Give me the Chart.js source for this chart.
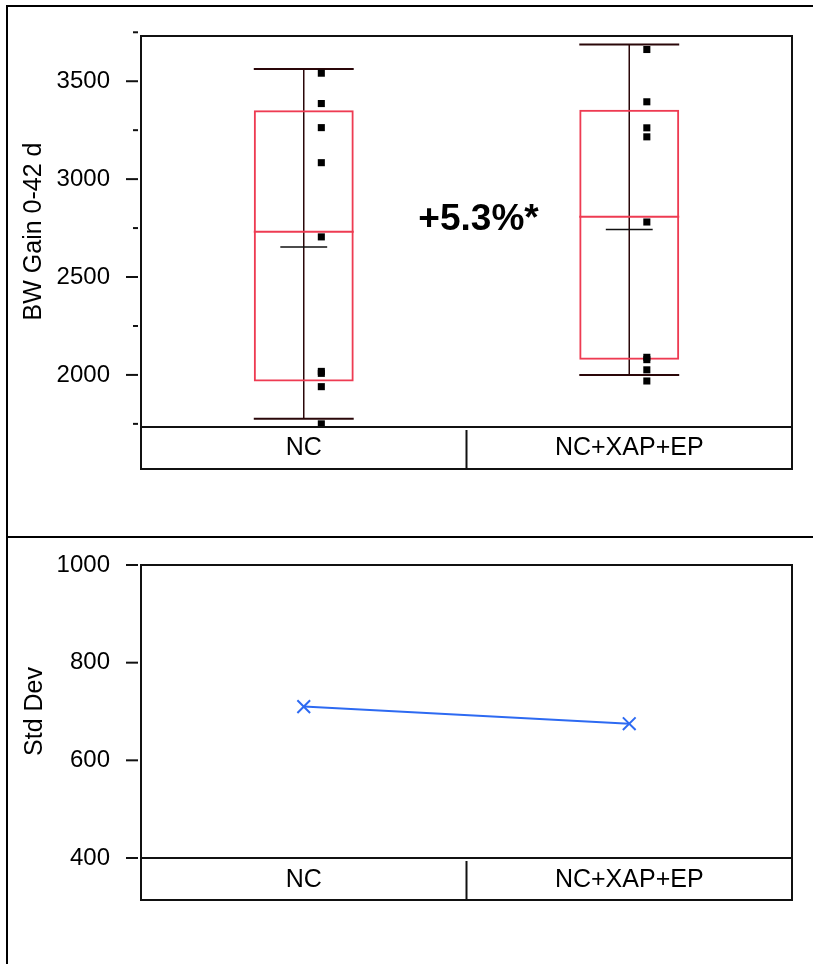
<!DOCTYPE html>
<html lang="en">
<head>
<meta charset="UTF-8">
<title>BW Gain 0-42 d</title>
<script src="https://cdn.jsdelivr.net/npm/chart.js"></script>
<style>
  body { margin: 0; background: #fff; }
  #page { position: relative; width: 813px; height: 964px; overflow: hidden; background: #fff; }
  #frame { position: absolute; left: 6px; top: 5px; width: 900px; height: 1000px; border-left: 2px solid #000; border-top: 2px solid #000; }
  #divider { position: absolute; left: 6px; top: 536px; width: 900px; height: 2px; background: #000; }
  .panel { position: absolute; left: 0; width: 813px; }
  #top { top: 0; height: 537px; }
  #bottom { top: 537px; height: 427px; }
</style>
</head>
<body>
<div id="page">
  <div id="frame"></div>
  <div id="divider"></div>
  <div class="panel" id="top"><canvas id="boxChart"></canvas></div>
  <div class="panel" id="bottom"><canvas id="sdChart"></canvas></div>
</div>

<script>
// data
const categories = ['NC', 'NC+XAP+EP'];

const whiskerHigh = [3563, 3688];
const quartile3   = [3352, 3354];
const median      = [2731, 2808];
const mean        = [2653, 2743];
const quartile1   = [1966, 2077];
const whiskerLow  = [1776, 2000];

const ncPoints  = [3541, 3386, 3263, 3084, 2705, 2018, 2008, 1940, 1750];
const xapPoints = [3662, 3395, 3262, 3216, 2781, 2090, 2078, 2026, 1969];

const yTicksTop    = [2000, 2500, 3000, 3500];
const yMinorTop    = [1750, 2250, 2750, 3250, 3750];
const yTicksBottom = [400, 600, 800, 1000];

const stdDev = [710, 675];

const annotationText = '+5.3%*';

Chart.defaults.font.family = "'Liberation Sans', Arial, sans-serif";
Chart.defaults.color = '#000';

const RED = '#ee3b52';
const DARK = '#2a0709';

function line(ctx, x1, y1, x2, y2) {
  ctx.beginPath();
  ctx.moveTo(x1, y1);
  ctx.lineTo(x2, y2);
  ctx.stroke();
}

// fixed axis size; drop the label padding chart.js adds above/below
function fixY(s) {
  s.width = 141;
  s.paddingTop = 0;
  s.paddingBottom = 0;
}

// plot frame, category band below it and the y tick marks
const panelFrame = {
  id: 'panelFrame',
  afterDraw(chart, args, opts) {
    const { ctx, chartArea: a } = chart;
    const y = chart.scales.y;
    ctx.save();
    ctx.strokeStyle = '#111';
    ctx.lineWidth = 2;
    ctx.strokeRect(a.left, a.top, a.right - a.left, a.bottom - a.top);

    const bb = a.bottom + 42;
    ctx.beginPath();
    ctx.moveTo(a.left, a.bottom);
    ctx.lineTo(a.left, bb);
    ctx.lineTo(a.right, bb);
    ctx.lineTo(a.right, a.bottom);
    ctx.stroke();
    const mid = (a.left + a.right) / 2;
    line(ctx, mid, a.bottom + 3, mid, bb);

    y.ticks.forEach(t => {
      const py = y.getPixelForValue(t.value);
      line(ctx, a.left - 15, py, a.left - 3, py);
    });
    (opts.minor || []).forEach(v => {
      const py = y.getPixelForValue(v);
      line(ctx, a.left - 8, py, a.left - 3, py);
    });
    ctx.restore();
  }
};

// whiskers, mean and median lines, plus the percentage note
const boxExtras = {
  id: 'boxExtras',
  beforeDatasetsDraw(chart) {
    const { ctx } = chart;
    const x = chart.scales.x, y = chart.scales.y;
    const cw = x.width / categories.length;
    const hw = cw * 0.307 / 2;
    const mw = cw * 0.072;
    ctx.save();
    categories.forEach((c, i) => {
      const cx = x.getPixelForValue(i);
      const yHi = y.getPixelForValue(whiskerHigh[i]);
      const yLo = y.getPixelForValue(whiskerLow[i]);
      ctx.strokeStyle = DARK;
      ctx.lineWidth = 1.5;
      line(ctx, cx, yHi, cx, yLo);
      ctx.lineWidth = 2;
      line(ctx, cx - hw, yHi, cx + hw, yHi);
      line(ctx, cx - hw, yLo, cx + hw, yLo);
      ctx.strokeStyle = '#111';
      ctx.lineWidth = 1.5;
      const ym = y.getPixelForValue(mean[i]);
      line(ctx, cx - mw, ym, cx + mw, ym);
      ctx.strokeStyle = RED;
      ctx.lineWidth = 2;
      const yMed = y.getPixelForValue(median[i]);
      line(ctx, cx - hw, yMed, cx + hw, yMed);
    });
    ctx.restore();
  },
  afterDraw(chart) {
    const { ctx } = chart;
    const xp = chart.scales.xp, y = chart.scales.y;
    ctx.save();
    ctx.font = "bold 37px 'Liberation Sans', Arial, sans-serif";
    ctx.fillStyle = '#000';
    ctx.textAlign = 'center';
    ctx.textBaseline = 'alphabetic';
    ctx.fillText(annotationText, xp.getPixelForValue(0.537), y.getPixelForValue(2738));
    ctx.restore();
  }
};

const ptOffset = 0.054;

new Chart(document.getElementById('boxChart'), {
  type: 'bar',
  data: {
    labels: categories,
    datasets: [
      {
        type: 'scatter',
        order: 0,
        xAxisID: 'xp',
        data: ncPoints.map(v => ({ x: 0 + ptOffset, y: v }))
          .concat(xapPoints.map(v => ({ x: 1 + ptOffset, y: v }))),
        pointStyle: 'rect',
        pointRadius: 5,
        pointBorderWidth: 0,
        pointBackgroundColor: '#000',
        pointBorderColor: '#000'
      },
      {
        order: 1,
        grouped: false,
        data: categories.map((c, i) => [quartile1[i], quartile3[i]]),
        backgroundColor: 'rgba(0,0,0,0)',
        borderColor: RED,
        borderWidth: 2,
        borderSkipped: false,
        barPercentage: 0.307,
        categoryPercentage: 1
      }
    ]
  },
  options: {
    responsive: true,
    maintainAspectRatio: false,
    animation: false,
    layout: { padding: { top: 36, right: 21, left: 0, bottom: 0 } },
    plugins: {
      legend: { display: false },
      tooltip: { enabled: false },
      panelFrame: { minor: yMinorTop }
    },
    scales: {
      x: {
        type: 'category',
        offset: true,
        grid: { display: false, drawTicks: false },
        border: { display: false },
        ticks: { font: { size: 25 }, padding: 6, maxRotation: 0 },
        afterFit: s => { s.height = 110; }
      },
      xp: { type: 'linear', min: -0.5, max: 1.5, offset: false, display: false },
      y: {
        min: 1734,
        max: 3731,
        afterBuildTicks: s => { s.ticks = yTicksTop.map(v => ({ value: v })); },
        grid: { display: false, drawTicks: false },
        border: { display: false },
        ticks: { font: { size: 24 }, padding: 31, callback: v => String(v) },
        title: { display: true, text: 'BW Gain 0-42 d', font: { size: 25 }, padding: { top: 19 } },
        afterFit: fixY
      }
    }
  },
  plugins: [boxExtras, panelFrame]
});

new Chart(document.getElementById('sdChart'), {
  type: 'line',
  data: {
    labels: categories,
    datasets: [{
      data: stdDev,
      borderColor: '#2d6af2',
      borderWidth: 2,
      pointStyle: 'crossRot',
      pointRadius: 9,
      pointBorderWidth: 2,
      pointBorderColor: '#2d6af2',
      tension: 0
    }]
  },
  options: {
    responsive: true,
    maintainAspectRatio: false,
    animation: false,
    layout: { padding: { top: 28, right: 21, left: 0, bottom: 0 } },
    plugins: {
      legend: { display: false },
      tooltip: { enabled: false }
    },
    scales: {
      x: {
        type: 'category',
        offset: true,
        grid: { display: false, drawTicks: false },
        border: { display: false },
        ticks: { font: { size: 25 }, padding: 7, maxRotation: 0 },
        afterFit: s => { s.height = 106; }
      },
      y: {
        min: 400,
        max: 1000,
        afterBuildTicks: s => { s.ticks = yTicksBottom.map(v => ({ value: v })); },
        grid: { display: false, drawTicks: false },
        border: { display: false },
        ticks: { font: { size: 24 }, padding: 31, callback: v => String(v) },
        title: { display: true, text: 'Std Dev', font: { size: 25 }, padding: { top: 20 } },
        afterFit: fixY
      }
    }
  },
  plugins: [panelFrame]
});
</script>
</body>
</html>
